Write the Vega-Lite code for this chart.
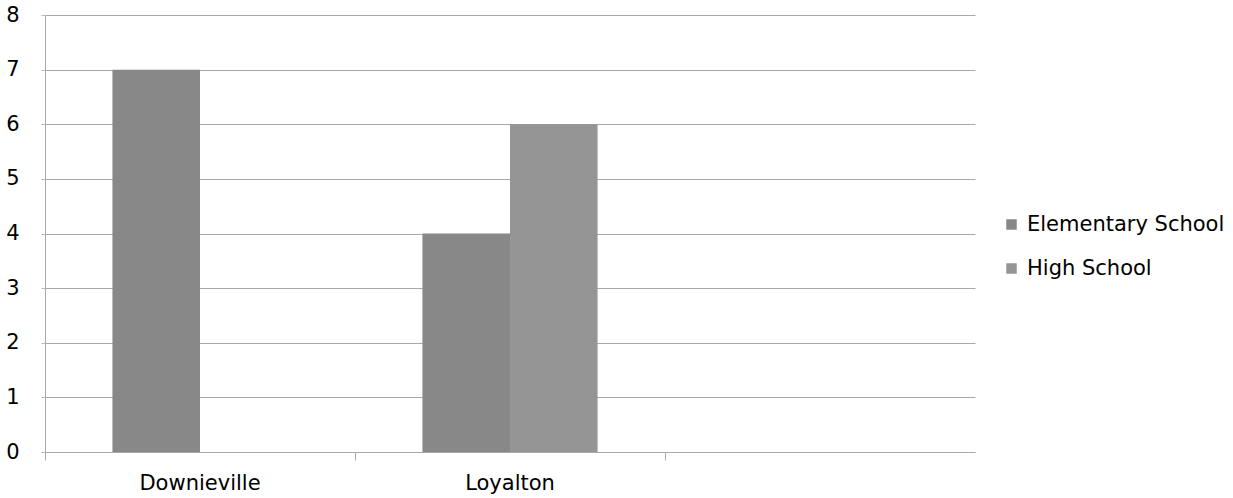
{
  "$schema": "https://vega.github.io/schema/vega-lite/v6.json",
  "autosize": {"type": "none"},
  "width": 930,
  "height": 437,
  "padding": {"left": 45, "top": 15, "right": 258, "bottom": 46},
  "background": "white",
  "config": {
    "view": {"stroke": null},
    "font": "DejaVu Sans"
  },
  "data": {
    "values": [
      {"town": "Downieville", "school": "Elementary School", "count": 7},
      {"town": "Downieville", "school": "High School", "count": 0},
      {"town": "Loyalton", "school": "Elementary School", "count": 4},
      {"town": "Loyalton", "school": "High School", "count": 6}
    ]
  },
  "mark": {"type": "bar"},
  "encoding": {
    "x": {
      "field": "town",
      "type": "nominal",
      "scale": {"domain": ["Downieville", "Loyalton", " "], "paddingInner": 0, "paddingOuter": 0},
      "axis": {
        "title": null,
        "labelAngle": 0,
        "bandPosition": 0,
        "labelFontSize": 21,
        "labelColor": "#000",
        "labelPadding": 12,
        "tickColor": "#aaa",
        "tickSize": 8,
        "domainColor": "#aaa",
        "grid": false
      }
    },
    "xOffset": {
      "field": "school",
      "type": "nominal",
      "scale": {"domain": ["Elementary School", "High School"], "paddingOuter": 0.77, "paddingInner": 0}
    },
    "y": {
      "field": "count",
      "type": "quantitative",
      "scale": {"domain": [0, 8]},
      "axis": {
        "title": null,
        "values": [0, 1, 2, 3, 4, 5, 6, 7, 8],
        "labelFontSize": 21,
        "labelColor": "#000",
        "labelPadding": 22,
        "tickSize": 4,
        "tickColor": "#bbb",
        "domainColor": "#aaa",
        "gridColor": "#a8a8a8",
        "gridWidth": 1
      }
    },
    "color": {
      "field": "school",
      "type": "nominal",
      "scale": {"domain": ["Elementary School", "High School"], "range": ["#888888", "#959595"]},
      "legend": {
        "title": null,
        "orient": "none",
        "legendX": 956,
        "legendY": 199,
        "symbolType": "square",
        "symbolSize": 110,
        "symbolStrokeWidth": 0,
        "labelFontSize": 21,
        "labelColor": "#000",
        "labelOffset": 5,
        "labelLimit": 300,
        "rowPadding": 22
      }
    }
  }
}
